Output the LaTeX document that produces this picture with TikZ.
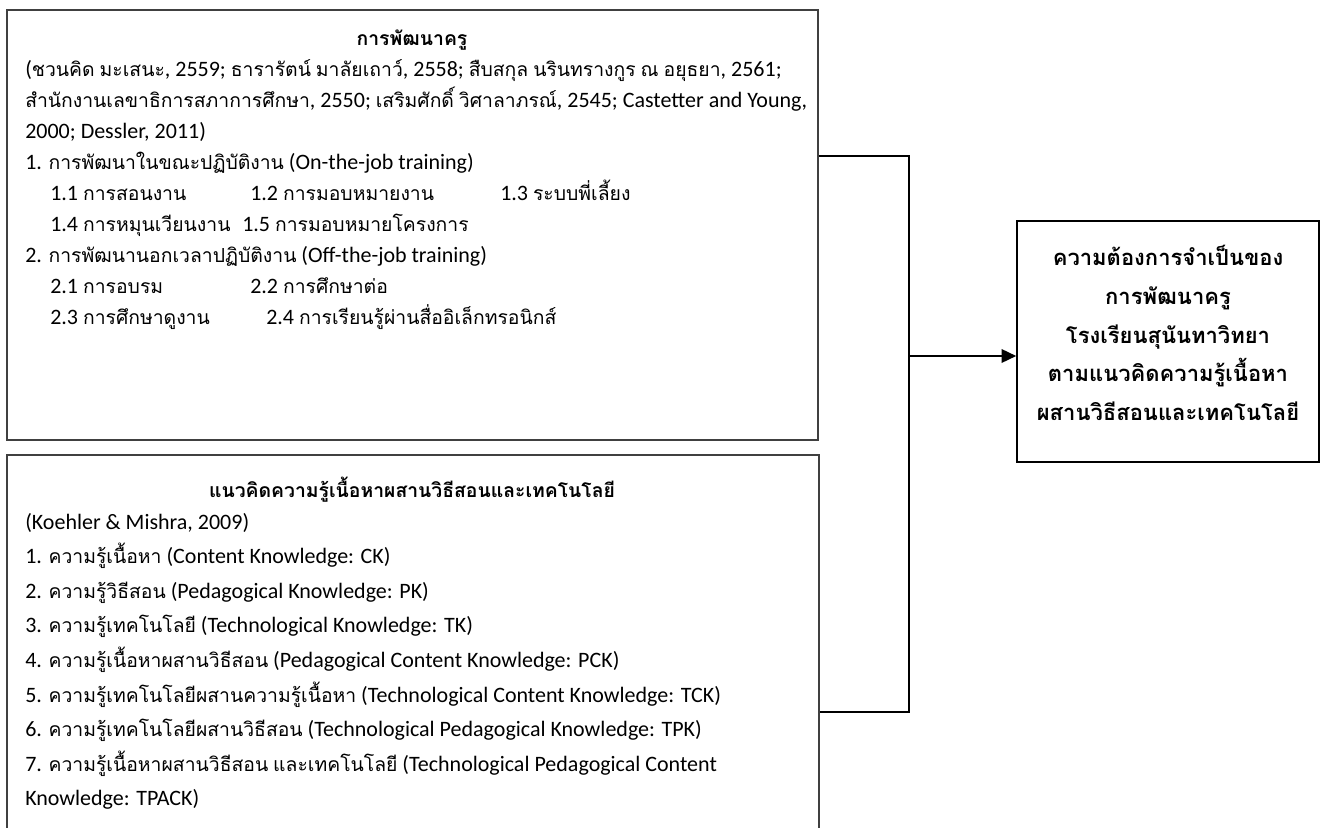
\documentclass[tikz,border=0pt]{standalone}
\usepackage{fontspec}
\setmainfont{Carlito}
\newfontfamily\thaif{Loma}[Script=Thai,Scale=0.88]
\XeTeXinterchartokenstate=1
\newXeTeXintercharclass\ThaiCls
\count255="0E00
\loop\ifnum\count255<"0E80 \XeTeXcharclass\count255=\ThaiCls \advance\count255 by 1 \repeat
\XeTeXinterchartoks 0 \ThaiCls = {\thaif}
\XeTeXinterchartoks 4095 \ThaiCls = {\thaif}
\XeTeXinterchartoks \ThaiCls 0 = {\normalfont}
\XeTeXinterchartoks \ThaiCls 4095 = {\normalfont}
\usetikzlibrary{arrows.meta,positioning}
\tikzset{box/.style={draw=black!75,line width=1.1pt,rectangle,inner sep=0pt}}
\tikzset{txt/.style={align=left,inner sep=0pt,font=\fontsize{16.5}{23.25}\selectfont}}
\tikzset{head/.style={inner sep=0pt,font=\bfseries\fontsize{16.5}{23.25}\selectfont}}
\tikzset{link/.style={line width=0.8pt}}
\newcommand{\col}[2]{\makebox[#1][l]{#2}}

\begin{document}
\begin{tikzpicture}[x=0.75pt,y=-0.75pt,>={Triangle[length=11pt,width=10pt]}]
\useasboundingbox (0,0) rectangle (1325,828);
\node[box,minimum width=608.25pt,minimum height=322.5pt] (dev) at (412.5,225) {};
\node[box,minimum width=609pt,minimum height=296pt] (tpack) at (413,652.5) {};
\node[box,draw=black,minimum width=226.5pt,minimum height=180.75pt] (need) at (1168,341.5) {};
\node[align=center,inner sep=0pt,font=\bfseries\fontsize{18.75}{29}\selectfont] (needtext) at (1168,333) {ความต้องการจำเป็นของ\\การพัฒนาครู\\โรงเรียนสุนันทาวิทยา\\ตามแนวคิดความรู้เนื้อหา\\ผสานวิธีสอนและเทคโนโลยี};
\node[head] (devhead) at (412,40) {การพัฒนาครู};
\node[txt,anchor=north west] (devtext) at (25,59) {(ชวนคิด มะเสนะ, 2559; ธารารัตน์ มาลัยเถาว์, 2558; สืบสกุล นรินทรางกูร ณ อยุธยา, 2561;\\
สำนักงานเลขาธิการสภาการศึกษา, 2550; เสริมศักดิ์ วิศาลาภรณ์, 2545; Castetter and Young,\\
2000; Dessler, 2011)\\
1. การพัฒนาในขณะปฏิบัติงาน (On-the-job training)\\
\hspace*{18.75pt}\col{150pt}{1.1 การสอนงาน}\col{187.5pt}{1.2 การมอบหมายงาน}1.3 ระบบพี่เลี้ยง\\
\hspace*{18.75pt}\col{144pt}{1.4 การหมุนเวียนงาน}1.5 การมอบหมายโครงการ\\
2. การพัฒนานอกเวลาปฏิบัติงาน (Off-the-job training)\\
\hspace*{18.75pt}\col{150pt}{2.1 การอบรม}2.2 การศึกษาต่อ\\
\hspace*{18.75pt}\col{162pt}{2.3 การศึกษาดูงาน}2.4 การเรียนรู้ผ่านสื่ออิเล็กทรอนิกส์};
\node[head] (tpackhead) at (412,490) {แนวคิดความรู้เนื้อหาผสานวิธีสอนและเทคโนโลยี};
\node[txt,anchor=north west,font=\fontsize{16.5}{25.9}\selectfont] (tpacktext) at (25,513) {(Koehler \& Mishra, 2009)\\
1. ความรู้เนื้อหา (Content Knowledge: CK)\\
2. ความรู้วิธีสอน (Pedagogical Knowledge: PK)\\
3. ความรู้เทคโนโลยี (Technological Knowledge: TK)\\
4. ความรู้เนื้อหาผสานวิธีสอน (Pedagogical Content Knowledge: PCK)\\
5. ความรู้เทคโนโลยีผสานความรู้เนื้อหา (Technological Content Knowledge: TCK)\\
6. ความรู้เทคโนโลยีผสานวิธีสอน (Technological Pedagogical Knowledge: TPK)\\
7. ความรู้เนื้อหาผสานวิธีสอน และเทคโนโลยี (Technological Pedagogical Content\\
Knowledge: TPACK)};
\coordinate (jt) at (909,156);
\coordinate (jb) at (909,712);
\coordinate (jm) at (909,356);
\draw[link] (dev.east |- jt) -- (jt) -- (jb) -- (tpack.east |- jb);
\draw[link,line width=1.8pt,->] (jm) -- (need.west |- jm);
\end{tikzpicture}
\end{document}
